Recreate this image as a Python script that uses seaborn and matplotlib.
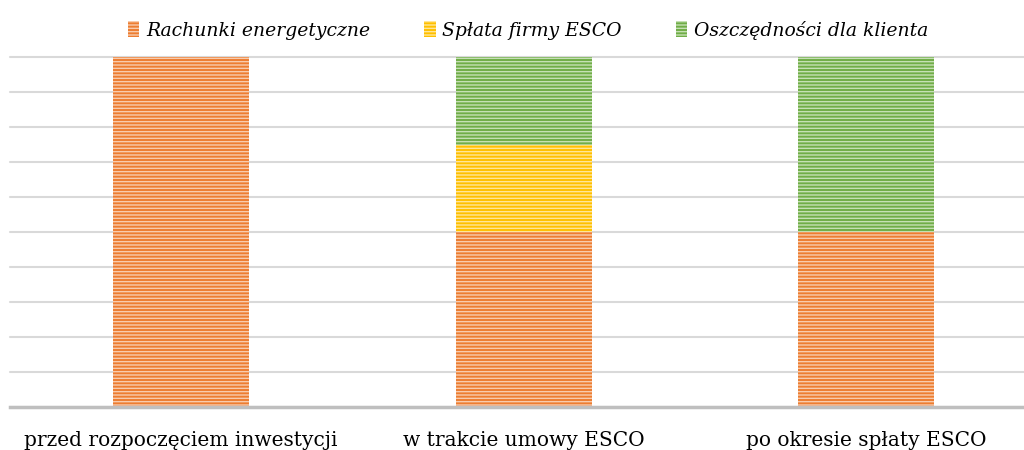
import pandas as pd
import matplotlib.pyplot as plt
import seaborn as sns
from matplotlib.patches import Patch

# Data
categories = ['przed rozpoczęciem inwestycji', 'w trakcie umowy ESCO', 'po okresie spłaty ESCO']
series = ['Rachunki energetyczne', 'Spłata firmy ESCO', 'Oszczędności dla klienta']
rachunki = [10, 5, 5]
splata = [0, 2.5, 0]
oszczednosci = [0, 2.5, 5]

colors = ['#ED7D31', '#FFC000', '#70AD47']
hatch_colors = ['#F8CBAD', '#FFE699', '#C5E0B4']

sns.set_style("white")
plt.rcParams['font.family'] = ['DejaVu Serif']
plt.rcParams['hatch.linewidth'] = 1.0

df = pd.DataFrame({'kategoria': categories, 'Rachunki energetyczne': rachunki,
                   'Spłata firmy ESCO': splata, 'Oszczędności dla klienta': oszczednosci})

# cumulative heights, drawn back to front so the stack shows
cum = df[series].cumsum(axis=1)

fig = plt.figure(figsize=(10.24, 4.5), dpi=100)
ax = fig.add_axes([10 / 1024, 43 / 450, 1 - 10 / 1024, 350 / 450])

for i in reversed(range(len(series))):
    n_before = len(ax.patches)
    sns.barplot(x=df['kategoria'], y=cum[series[i]], color=colors[i], width=0.397,
                linewidth=0, edgecolor=hatch_colors[i], saturation=1, ax=ax, zorder=3)
    for p in ax.patches[n_before:]:
        p.set_hatch('-----')
        p.set_edgecolor(hatch_colors[i])
        p.set_linewidth(0)

ax.set_ylim(0, 10)
ax.set_xlim(-0.4993, 2.461)
ax.set_yticks(range(0, 11))
ax.set_yticklabels([])
ax.yaxis.grid(True, color='#D9D9D9', linewidth=1.5, zorder=0)
for line in ax.get_ygridlines():
    line.set_clip_on(False)
ax.set_axisbelow(True)
for s in ['top', 'right', 'left']:
    ax.spines[s].set_visible(False)
ax.spines['bottom'].set_color('#BFBFBF')
ax.spines['bottom'].set_linewidth(2.5)
ax.spines['bottom'].set_zorder(4)
ax.set_xlabel('')
ax.set_ylabel('')
ax.tick_params(axis='x', length=0, labelsize=14.5, pad=17, colors='#000000')
ax.tick_params(axis='y', length=0)

handles = [Patch(facecolor=colors[i], edgecolor=hatch_colors[i], hatch='-----', linewidth=0)
           for i in range(len(series))]
fig.legend(handles, series, loc='center', bbox_to_anchor=(528 / 1024, 1 - 30 / 450), ncol=3,
           frameon=False, prop={'style': 'italic', 'size': 13.5}, handlelength=0.6, handleheight=0.95,
           handletextpad=0.35, columnspacing=2.9, labelcolor='#000000')

fig.savefig('out.png', dpi=100)
